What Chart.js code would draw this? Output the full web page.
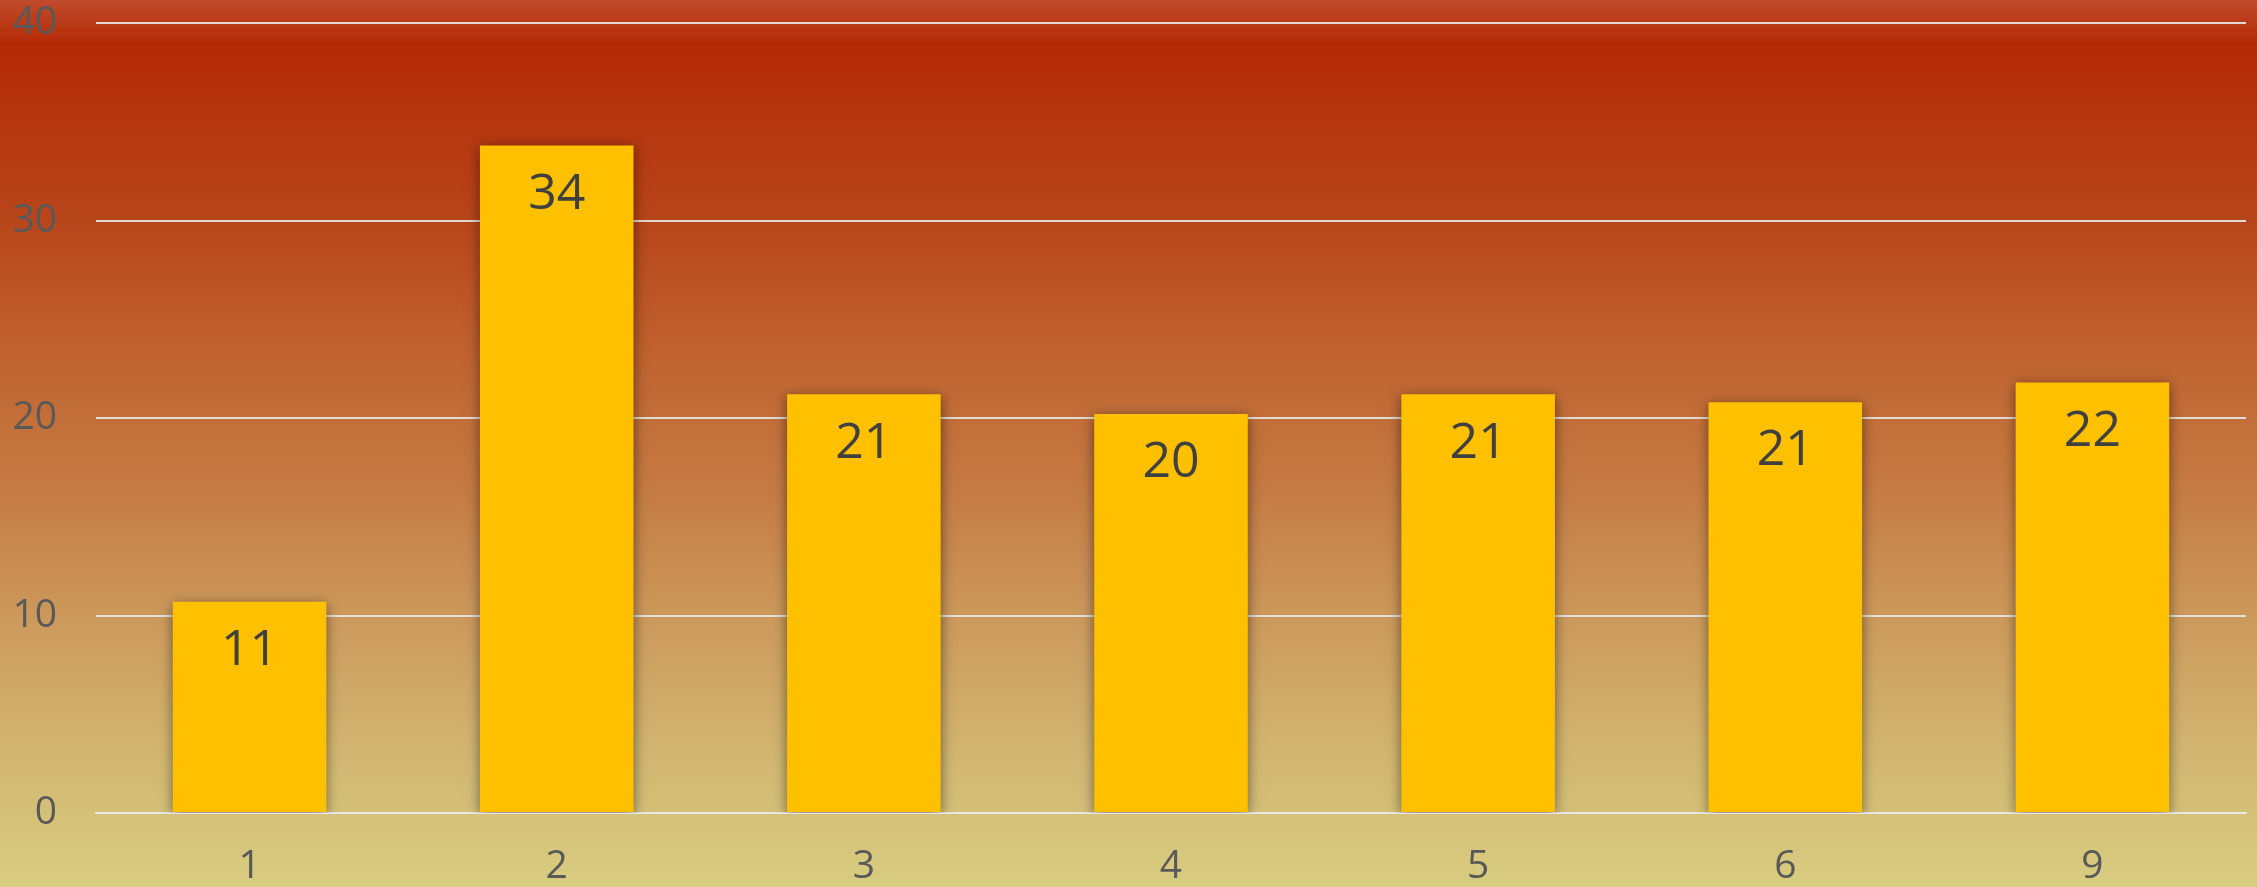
<!DOCTYPE html>
<html>
<head>
<meta charset="utf-8">
<script src="https://cdn.jsdelivr.net/npm/chart.js@4/dist/chart.umd.min.js"></script>
<style>
  html, body { margin: 0; padding: 0; background: #d8cc80; }
  #wrap { width: 2257px; height: 887px; position: relative; }
</style>
</head>
<body>
<div id="wrap"><canvas id="barChart" width="2257" height="887"></canvas></div>
<script>
// Chart data
const categories = ['1', '2', '3', '4', '5', '6', '9'];
const values = [10.7, 33.8, 21.2, 20.2, 21.2, 20.8, 21.8];
const yTicks = [0, 10, 20, 30, 40];

// Background gradient (top -> bottom)
const bgStops = [
    [0.00, '#c04b2c'],
    [0.05, '#b42a04'],
    [0.25, '#b8461b'],
    [0.40, '#c0632f'],
    [0.55, '#c57b43'],
    [0.70, '#cc9a5c'],
    [0.85, '#d2b671'],
    [1.00, '#d8cd80']
];

const backgroundPlugin = {
    id: 'bgGradient',
    beforeDraw(chart) {
        const ctx = chart.ctx;
        const grad = ctx.createLinearGradient(0, 0, 0, chart.height);
        bgStops.forEach(s => grad.addColorStop(s[0], s[1]));
        ctx.save();
        ctx.fillStyle = grad;
        ctx.fillRect(0, 0, chart.width, chart.height);
        ctx.restore();
    }
};

// Soft shadow around the bars
const barShadowPlugin = {
    id: 'barShadow',
    beforeDatasetsDraw(chart) {
        const ctx = chart.ctx;
        ctx.save();
        ctx.shadowColor = 'rgba(0, 0, 0, 0.5)';
        ctx.shadowBlur = 12;
        ctx.shadowOffsetX = 0;
        ctx.shadowOffsetY = 3;
    },
    afterDatasetsDraw(chart) {
        chart.ctx.restore();
    }
};

// Value labels inside the top of each bar
const valueLabelPlugin = {
    id: 'valueLabels',
    afterDatasetsDraw(chart) {
        const ctx = chart.ctx;
        const meta = chart.getDatasetMeta(0);
        ctx.save();
        ctx.font = '50px "Open Sans", sans-serif';
        ctx.fillStyle = '#404040';
        ctx.textAlign = 'center';
        ctx.textBaseline = 'middle';
        meta.data.forEach((bar, i) => {
            ctx.fillText(String(Math.round(values[i])), bar.x, bar.y + 49);
        });
        ctx.restore();
    }
};

new Chart(document.getElementById('barChart'), {
    type: 'bar',
    data: {
        labels: categories,
        datasets: [{
            data: values,
            backgroundColor: '#FFC000',
            borderWidth: 0,
            categoryPercentage: 0.5,
            barPercentage: 1.0
        }]
    },
    options: {
        responsive: false,
        animation: false,
        layout: {
            padding: { top: 0, right: 11, left: 0, bottom: 0 }
        },
        plugins: {
            legend: { display: false },
            tooltip: { enabled: false }
        },
        scales: {
            x: {
                grid: { display: false, drawTicks: false },
                border: { display: true, color: 'rgba(232, 232, 232, 0.9)', width: 2 },
                ticks: {
                    color: '#595959',
                    font: { family: '"Open Sans", sans-serif', size: 39 },
                    padding: 30
                },
                afterFit(scale) {
                    scale.height = 74;
                    scale.paddingLeft = 0;
                    scale.paddingRight = 0;
                }
            },
            y: {
                min: 0,
                max: 40,
                afterBuildTicks(scale) {
                    scale.ticks = yTicks.map(v => ({ value: v }));
                },
                grid: { color: 'rgba(232, 232, 232, 0.9)', lineWidth: 2, drawTicks: false },
                border: { display: false },
                ticks: {
                    color: '#595959',
                    font: { family: '"Open Sans", sans-serif', size: 39 },
                    padding: 39
                },
                afterFit(scale) {
                    scale.width = 96;
                    scale.paddingTop = 23;
                    scale.paddingBottom = 0;
                }
            }
        }
    },
    plugins: [backgroundPlugin, barShadowPlugin, valueLabelPlugin]
});
</script>
</body>
</html>
